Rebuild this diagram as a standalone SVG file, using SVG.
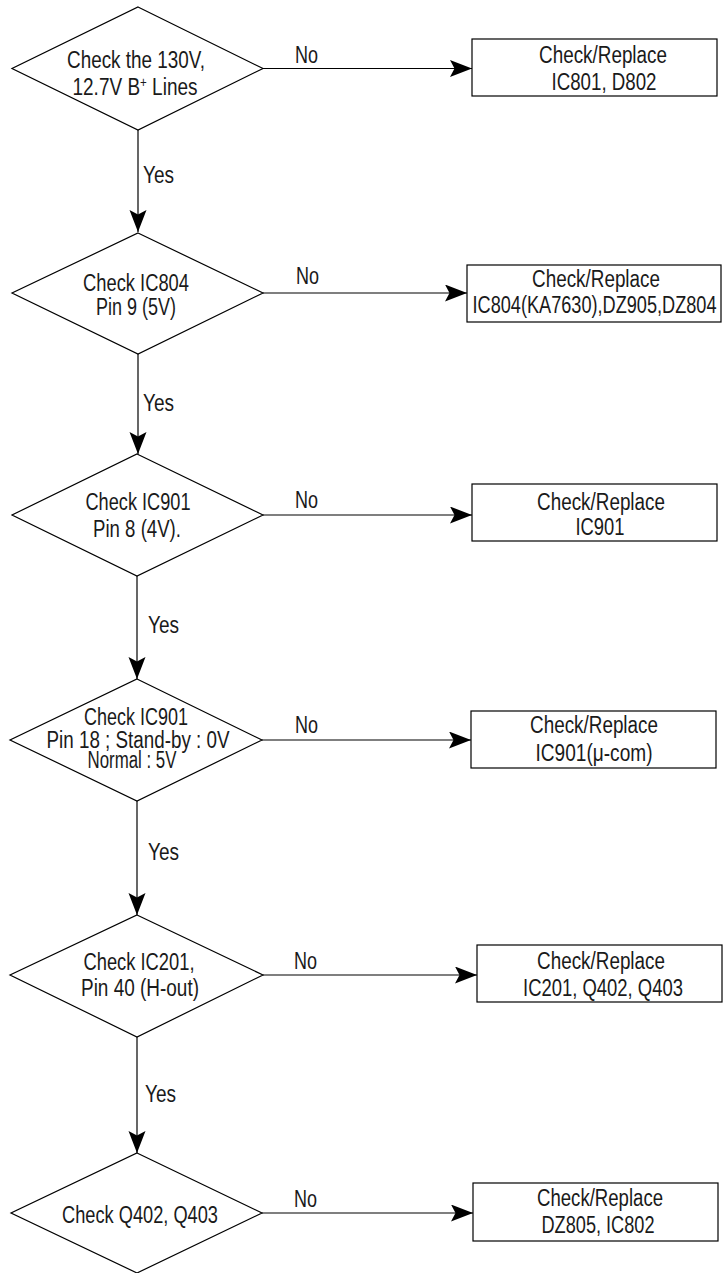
<svg xmlns="http://www.w3.org/2000/svg" width="725" height="1273" viewBox="0 0 725 1273">
<defs>
<style>
.shape{fill:#fff;stroke:#000;stroke-width:1.2}
.conn{fill:none;stroke:#000;stroke-width:1.2}
text{font-family:"Liberation Sans Narrow","Arial Narrow","Liberation Sans",sans-serif;font-size:23px;fill:#1a1a1a}
.c{text-anchor:middle}
</style>
<marker id="arr" markerUnits="userSpaceOnUse" markerWidth="24" markerHeight="18" refX="22" refY="8.5" orient="auto">
<path d="M0,0 L22,8.5 L0,17 L4.5,8.5 Z" fill="#000"/>
</marker>
</defs>
<rect width="725" height="1273" fill="#fff"/>

<g id="connectors">
<line class="conn" x1="263" y1="68.5" x2="472" y2="68.5" marker-end="url(#arr)"/>
<line class="conn" x1="138" y1="130" x2="138" y2="232" marker-end="url(#arr)"/>
<line class="conn" x1="263" y1="293" x2="467" y2="293" marker-end="url(#arr)"/>
<line class="conn" x1="138" y1="354" x2="138" y2="454" marker-end="url(#arr)"/>
<line class="conn" x1="263" y1="515" x2="472" y2="515" marker-end="url(#arr)"/>
<line class="conn" x1="137" y1="576" x2="137" y2="679" marker-end="url(#arr)"/>
<line class="conn" x1="262" y1="740" x2="471" y2="740" marker-end="url(#arr)"/>
<line class="conn" x1="137" y1="801" x2="137" y2="915" marker-end="url(#arr)"/>
<line class="conn" x1="263" y1="975" x2="477" y2="975" marker-end="url(#arr)"/>
<line class="conn" x1="137" y1="1037" x2="137" y2="1153" marker-end="url(#arr)"/>
<line class="conn" x1="262" y1="1213" x2="473" y2="1213" marker-end="url(#arr)"/>
<text x="295" y="63" textLength="23" lengthAdjust="spacingAndGlyphs">No</text>
<text x="296" y="284" textLength="23" lengthAdjust="spacingAndGlyphs">No</text>
<text x="295" y="508" textLength="23" lengthAdjust="spacingAndGlyphs">No</text>
<text x="295" y="733" textLength="23" lengthAdjust="spacingAndGlyphs">No</text>
<text x="294" y="969" textLength="23" lengthAdjust="spacingAndGlyphs">No</text>
<text x="294" y="1207" textLength="23" lengthAdjust="spacingAndGlyphs">No</text>
<text x="143" y="183" textLength="31" lengthAdjust="spacingAndGlyphs">Yes</text>
<text x="143" y="411" textLength="31" lengthAdjust="spacingAndGlyphs">Yes</text>
<text x="148" y="633" textLength="31" lengthAdjust="spacingAndGlyphs">Yes</text>
<text x="148" y="860" textLength="31" lengthAdjust="spacingAndGlyphs">Yes</text>
<text x="145" y="1102" textLength="31" lengthAdjust="spacingAndGlyphs">Yes</text>
</g>

<g id="d1">
<polygon class="shape" points="138,7 263,68.5 138,130 12,68.5"/>
<text class="c" x="136" y="68" textLength="138" lengthAdjust="spacingAndGlyphs">Check the 130V,</text>
<text class="c" x="135" y="95" textLength="125" lengthAdjust="spacingAndGlyphs">12.7V B<tspan baseline-shift="super" font-size="14">+</tspan> Lines</text>
</g>
<g id="b1">
<rect class="shape" x="472" y="39" width="245" height="57"/>
<text class="c" x="603" y="63" textLength="128" lengthAdjust="spacingAndGlyphs">Check/Replace</text>
<text class="c" x="604" y="90" textLength="105" lengthAdjust="spacingAndGlyphs">IC801, D802</text>
</g>

<g id="d2">
<polygon class="shape" points="138,233 263,293 138,354 12,293"/>
<text class="c" x="136" y="291" textLength="106" lengthAdjust="spacingAndGlyphs">Check IC804</text>
<text class="c" x="136" y="315" textLength="80" lengthAdjust="spacingAndGlyphs">Pin 9 (5V)</text>
</g>
<g id="b2">
<rect class="shape" x="467" y="265" width="254" height="57"/>
<text class="c" x="596" y="287" textLength="128" lengthAdjust="spacingAndGlyphs">Check/Replace</text>
<text class="c" x="594.5" y="313" textLength="244" lengthAdjust="spacingAndGlyphs">IC804(KA7630),DZ905,DZ804</text>
</g>

<g id="d3">
<polygon class="shape" points="137,454 263,515 137,576 12,515"/>
<text class="c" x="138" y="510" textLength="105" lengthAdjust="spacingAndGlyphs">Check IC901</text>
<text class="c" x="137" y="537" textLength="88" lengthAdjust="spacingAndGlyphs">Pin 8 (4V).</text>
</g>
<g id="b3">
<rect class="shape" x="472" y="484" width="245" height="57"/>
<text class="c" x="601" y="510" textLength="128" lengthAdjust="spacingAndGlyphs">Check/Replace</text>
<text class="c" x="600" y="535" textLength="49" lengthAdjust="spacingAndGlyphs">IC901</text>
</g>

<g id="d4">
<polygon class="shape" points="137,679 262,740 137,801 10,740"/>
<text class="c" x="136" y="725" textLength="104" lengthAdjust="spacingAndGlyphs">Check IC901</text>
<text class="c" x="138" y="748" textLength="183" lengthAdjust="spacingAndGlyphs">Pin 18 ; Stand-by : 0V</text>
<text class="c" x="132" y="768" textLength="89" lengthAdjust="spacingAndGlyphs">Normal : 5V</text>
</g>
<g id="b4">
<rect class="shape" x="471" y="711" width="245" height="57"/>
<text class="c" x="594" y="733" textLength="128" lengthAdjust="spacingAndGlyphs">Check/Replace</text>
<text class="c" x="594" y="761" textLength="117" lengthAdjust="spacingAndGlyphs">IC901(μ-com)</text>
</g>

<g id="d5">
<polygon class="shape" points="137,915 263,975 137,1037 10,975"/>
<text class="c" x="139" y="970" textLength="111" lengthAdjust="spacingAndGlyphs">Check IC201,</text>
<text class="c" x="140" y="996" textLength="118" lengthAdjust="spacingAndGlyphs">Pin 40 (H-out)</text>
</g>
<g id="b5">
<rect class="shape" x="477" y="945" width="245" height="57"/>
<text class="c" x="601" y="969" textLength="128" lengthAdjust="spacingAndGlyphs">Check/Replace</text>
<text class="c" x="603" y="996" textLength="160" lengthAdjust="spacingAndGlyphs">IC201, Q402, Q403</text>
</g>

<g id="d6">
<polygon class="shape" points="137,1153 262,1213 137,1273 11,1213"/>
<text class="c" x="140" y="1223" textLength="156" lengthAdjust="spacingAndGlyphs">Check Q402, Q403</text>
</g>
<g id="b6">
<rect class="shape" x="473" y="1183" width="245" height="58"/>
<text class="c" x="600" y="1206" textLength="126" lengthAdjust="spacingAndGlyphs">Check/Replace</text>
<text class="c" x="598" y="1233" textLength="113" lengthAdjust="spacingAndGlyphs">DZ805, IC802</text>
</g>
</svg>
